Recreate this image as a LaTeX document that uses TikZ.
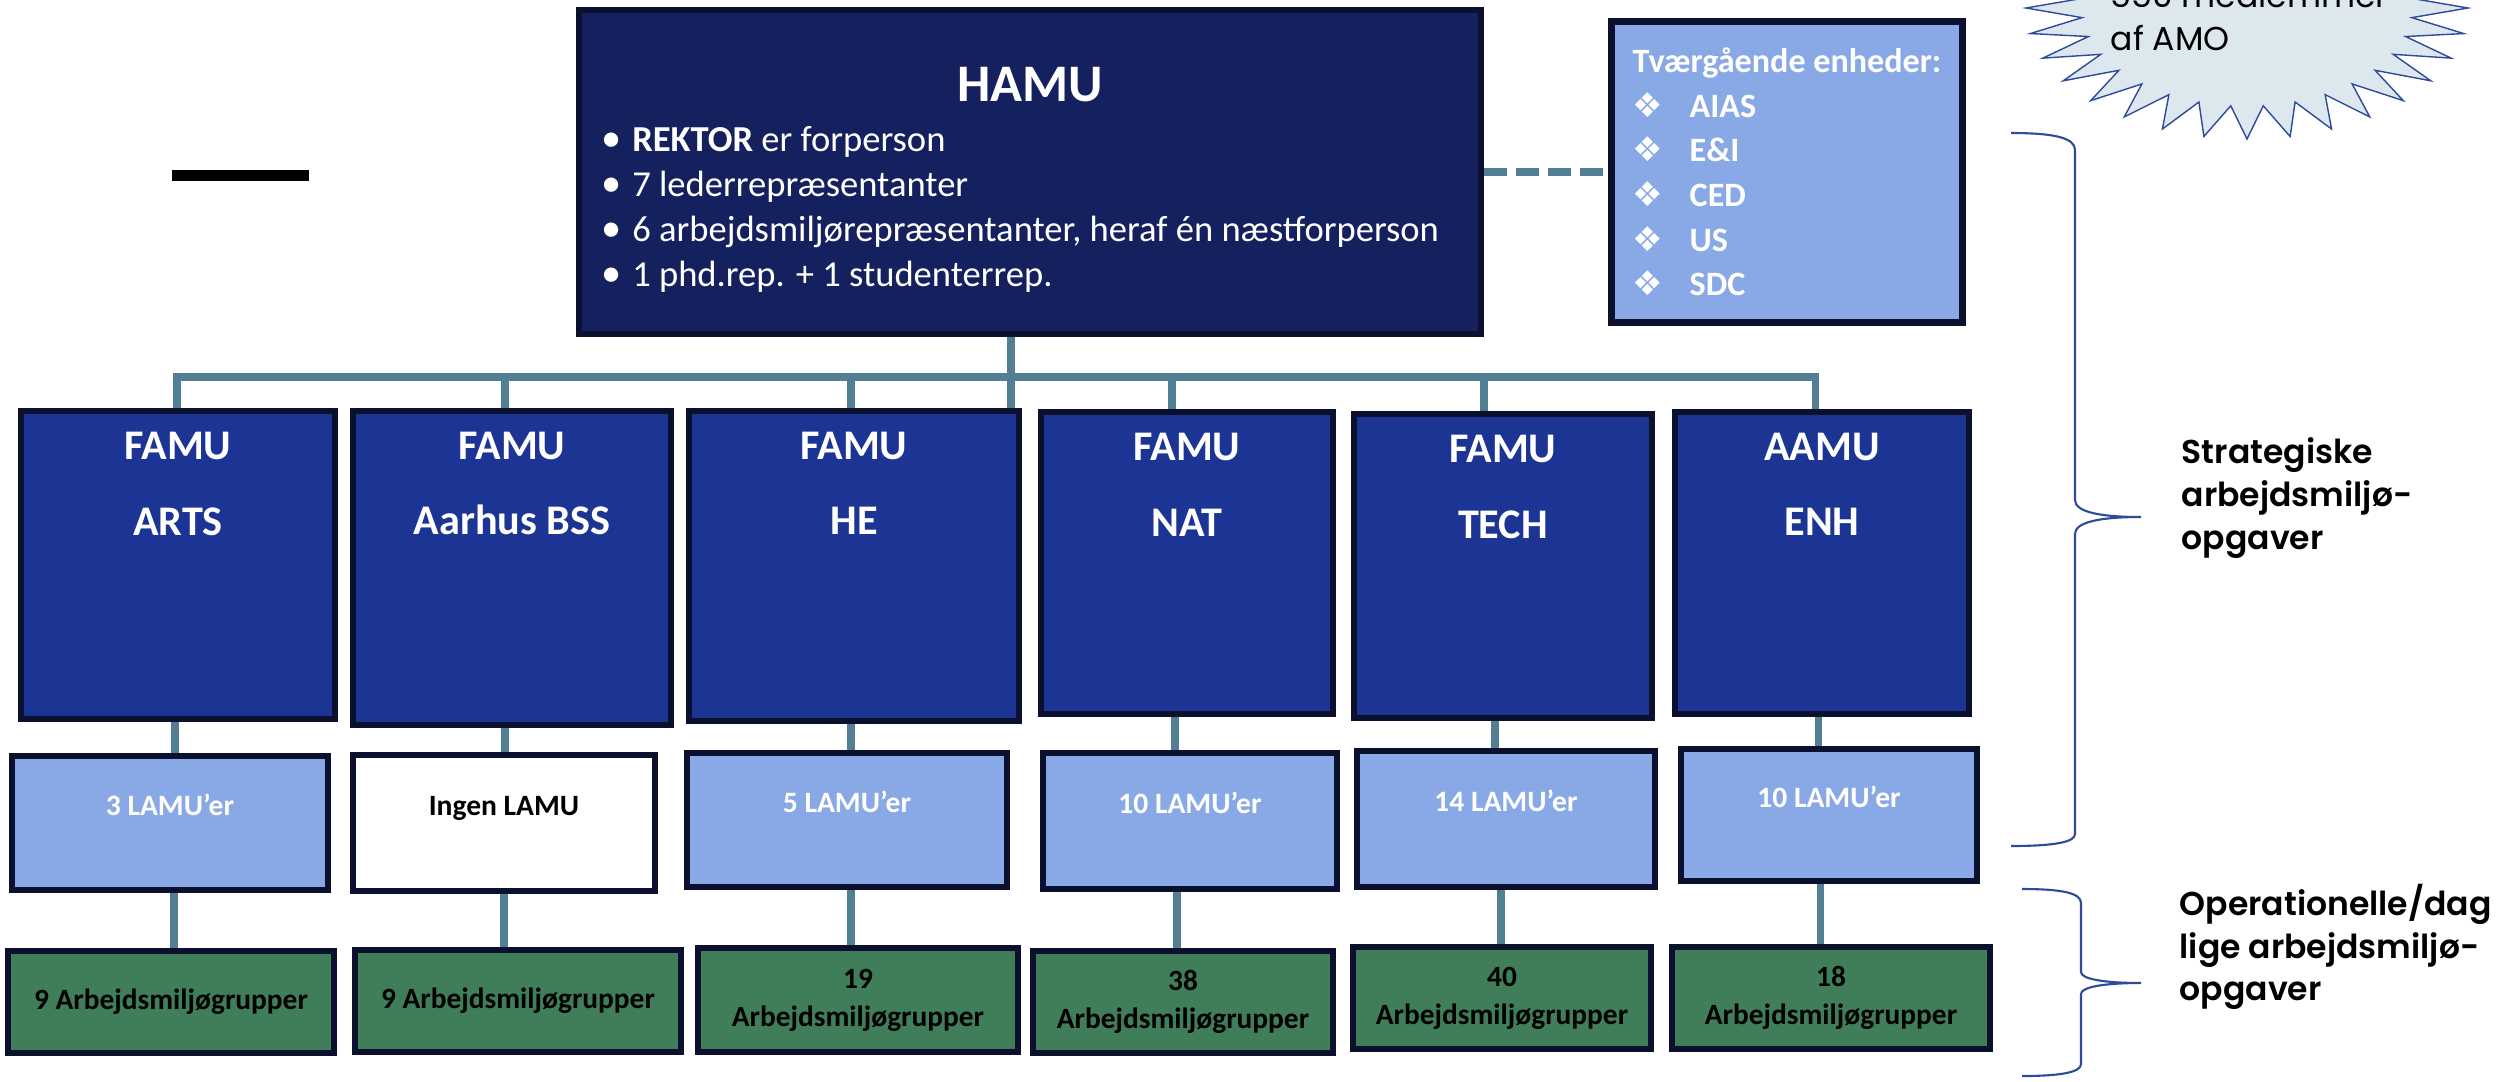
\documentclass[tikz,border=0pt]{standalone}
\usepackage{fontspec}
\setmainfont{Carlito}
\newfontfamily\popfont{Poppins}
\newfontfamily\popsemi{Poppins SemiBold}
\newfontfamily\symfont{DejaVu Sans}
\usetikzlibrary{backgrounds}
\definecolor{hamublue}{RGB}{20,33,94}
\definecolor{famublue}{RGB}{28,53,148}
\definecolor{lamublue}{RGB}{137,169,230}
\definecolor{amgreen}{RGB}{63,126,88}
\definecolor{boxline}{RGB}{11,16,46}
\definecolor{connblue}{RGB}{83,127,148}
\definecolor{burstfill}{RGB}{221,232,238}
\definecolor{burstline}{RGB}{45,74,155}
\begin{document}
\begin{tikzpicture}[x=0.01cm, y=-0.01cm,
  box/.style={draw=boxline, line width=1.7pt, inner sep=0pt},
  hamubox/.style={box, fill=hamublue, text=white, align=left, font=\fontsize{10.4}{12.8}\selectfont},
  tvbox/.style={box, fill=lamublue, text=white, align=left, line width=2pt, font=\bfseries\fontsize{9.7}{12.7}\selectfont},
  famubox/.style={box, fill=famublue},
  famutext/.style={anchor=north, yshift=-0.23cm, inner sep=0pt, text=white, align=center, font=\bfseries\fontsize{12}{21.6}\selectfont},
  lamubox/.style={box, fill=lamublue, text=white, font=\bfseries\fontsize{8.4}{10}\selectfont, text height=6pt, text depth=10.3pt},
  nolamu/.style={lamubox, fill=white, text=black},
  grpbox/.style={box, fill=amgreen, text=black, align=center, font=\bfseries\fontsize{8.35}{10.8}\selectfont},
  conn/.style={draw=connblue, line width=2pt},
  dashconn/.style={draw=connblue, line width=2.3pt, dash pattern=on 6.5pt off 2.6pt},
  brace/.style={draw=burstline, line width=0.6pt},
  sidetext/.style={anchor=west, inner sep=0pt, align=left, font=\popsemi\fontsize{9.4}{12.1}\selectfont},
  burst/.style={fill=burstfill, draw=burstline, line width=0.4pt}]
\useasboundingbox (0,0) rectangle (2499,1081);
\clip (0,0) rectangle (2499,1081);

% top level
\node[hamubox, minimum width=9.01cm, minimum height=3.23cm] (hamu) at (1030,172) {%
  {\bfseries\fontsize{15}{18}\selectfont\rule{0pt}{0.49cm}\makebox[8.57cm]{HAMU}}\\[1.4pt]
  \makebox[0.31cm][l]{\fontsize{11.5}{12}\selectfont•}\textbf{REKTOR} er forperson\\
  \makebox[0.31cm][l]{\fontsize{11.5}{12}\selectfont•}7 lederrepræsentanter\\
  \makebox[0.31cm][l]{\fontsize{11.5}{12}\selectfont•}6 arbejdsmiljørepræsentanter, heraf én næstforperson\\
  \makebox[0.31cm][l]{\fontsize{11.5}{12}\selectfont•}1 phd.rep. + 1 studenterrep.};
\node[tvbox, minimum width=3.50cm, minimum height=3.00cm] (tvaer) at (1787,172) {%
  Tværgående enheder:\\
  \makebox[0.57cm][l]{\symfont ❖}AIAS\\
  \makebox[0.57cm][l]{\symfont ❖}E\&I\\
  \makebox[0.57cm][l]{\symfont ❖}CED\\
  \makebox[0.57cm][l]{\symfont ❖}US\\
  \makebox[0.57cm][l]{\symfont ❖}SDC};
\fill (172,170) rectangle (309,181);

% FAMU / AAMU
\node[famubox, minimum width=3.14cm, minimum height=3.07cm, label={[famutext]north:FAMU\\ARTS}] (arts) at (178,565) {};
\node[famubox, minimum width=3.17cm, minimum height=3.14cm, label={[famutext]north:FAMU\\Aarhus BSS}] (bss) at (512,568) {};
\node[famubox, minimum width=3.30cm, minimum height=3.10cm, label={[famutext]north:FAMU\\HE}] (he) at (854,566) {};
\node[famubox, minimum width=2.91cm, minimum height=3.01cm, label={[famutext]north:FAMU\\NAT}] (nat) at (1187,563) {};
\node[famubox, minimum width=2.97cm, minimum height=3.03cm, label={[famutext]north:FAMU\\TECH}] (tech) at (1503,566) {};
\node[famubox, minimum width=2.94cm, minimum height=3.02cm, label={[famutext]north:AAMU\\ENH}] (enh) at (1822,563) {};

% LAMU
\node[lamubox, minimum width=3.15cm, minimum height=1.33cm] (l-arts) at (170,823) {3 LAMU’er};
\node[nolamu, minimum width=3.01cm, minimum height=1.35cm] (l-bss) at (504,823) {Ingen LAMU};
\node[lamubox, minimum width=3.19cm, minimum height=1.34cm] (l-he) at (847,820) {5 LAMU’er};
\node[lamubox, minimum width=2.93cm, minimum height=1.35cm] (l-nat) at (1190,821) {10 LAMU’er};
\node[lamubox, minimum width=2.97cm, minimum height=1.36cm] (l-tech) at (1506,819) {14 LAMU’er};
\node[lamubox, minimum width=2.96cm, minimum height=1.32cm] (l-enh) at (1829,815) {10 LAMU’er};

% arbejdsmiljoegrupper
\node[grpbox, minimum width=3.25cm, minimum height=1.01cm] (g-arts) at (171,1002) {9 Arbejdsmiljøgrupper};
\node[grpbox, minimum width=3.25cm, minimum height=1.02cm] (g-bss) at (518,1001) {9 Arbejdsmiljøgrupper};
\node[grpbox, minimum width=3.19cm, minimum height=1.04cm] (g-he) at (858,1000) {19\\Arbejdsmiljøgrupper};
\node[grpbox, minimum width=3.00cm, minimum height=1.02cm] (g-nat) at (1183,1002) {38\\Arbejdsmiljøgrupper};
\node[grpbox, minimum width=2.98cm, minimum height=1.01cm] (g-tech) at (1502,998) {40\\Arbejdsmiljøgrupper};
\node[grpbox, minimum width=3.18cm, minimum height=1.01cm] (g-enh) at (1831,998) {18\\Arbejdsmiljøgrupper};

% connectors
\begin{pgfonlayer}{background}
\coordinate (trunk) at (1011,300);
\draw[conn] (trunk) -- (trunk |- he.north);
\foreach \n/\xa/\xb/\xc in {arts/177/175/174, bss/505/505/504, he/851/851/851, nat/1172/1175/1177, tech/1484/1495/1501, enh/1815/1818/1820}{
  \coordinate (b-\n) at (\xa,377);
  \coordinate (m-\n) at (\xb,0);
  \coordinate (k-\n) at (\xc,0);
  \draw[conn] (b-\n) -- (b-\n |- \n.north);
  \draw[conn] (m-\n |- \n.south) -- (m-\n |- l-\n.north);
  \draw[conn] (k-\n |- l-\n.south) -- (k-\n |- g-\n.north);
}
\draw[conn, line cap=rect] (b-arts) -- (b-enh);
\draw[dashconn] (hamu.east) -- (tvaer.west);
\end{pgfonlayer}

% 550 medlemmer
\draw[burst] plot[samples at={0,...,63}] ({2247+221*(0.875+0.125*cos(\x*180))*cos(\x*5.625)}, {8+131*(0.875+0.125*cos(\x*180))*sin(\x*5.625)}) -- cycle;
\node[anchor=south west, inner sep=0pt, align=left, font=\popfont\fontsize{9.4}{12}\selectfont] (amo) at (2110,51) {550 medlemmer\\af AMO};

% braces
\draw[brace] (2011,133) .. controls (2055,133) and (2075,138) .. (2075,150) -- (2075,500) .. controls (2075,512) and (2100,517) .. (2141,517) .. controls (2100,517) and (2075,522) .. (2075,534) -- (2075,834) .. controls (2075,842) and (2055,846) .. (2011,846);
\draw[brace] (2022,889) .. controls (2062,889) and (2081,893) .. (2081,903) -- (2081,972) .. controls (2081,979) and (2104,983) .. (2141,983) .. controls (2104,983) and (2081,987) .. (2081,994) -- (2081,1064) .. controls (2081,1072) and (2062,1076) .. (2022,1076);
\node[sidetext] (strat) at (2181,498) {Strategiske\\arbejdsmiljø-\\opgaver};
\node[sidetext] (oper) at (2179,947) {Operationelle/dag\\lige arbejdsmiljø-\\opgaver};
\end{tikzpicture}
\end{document}
